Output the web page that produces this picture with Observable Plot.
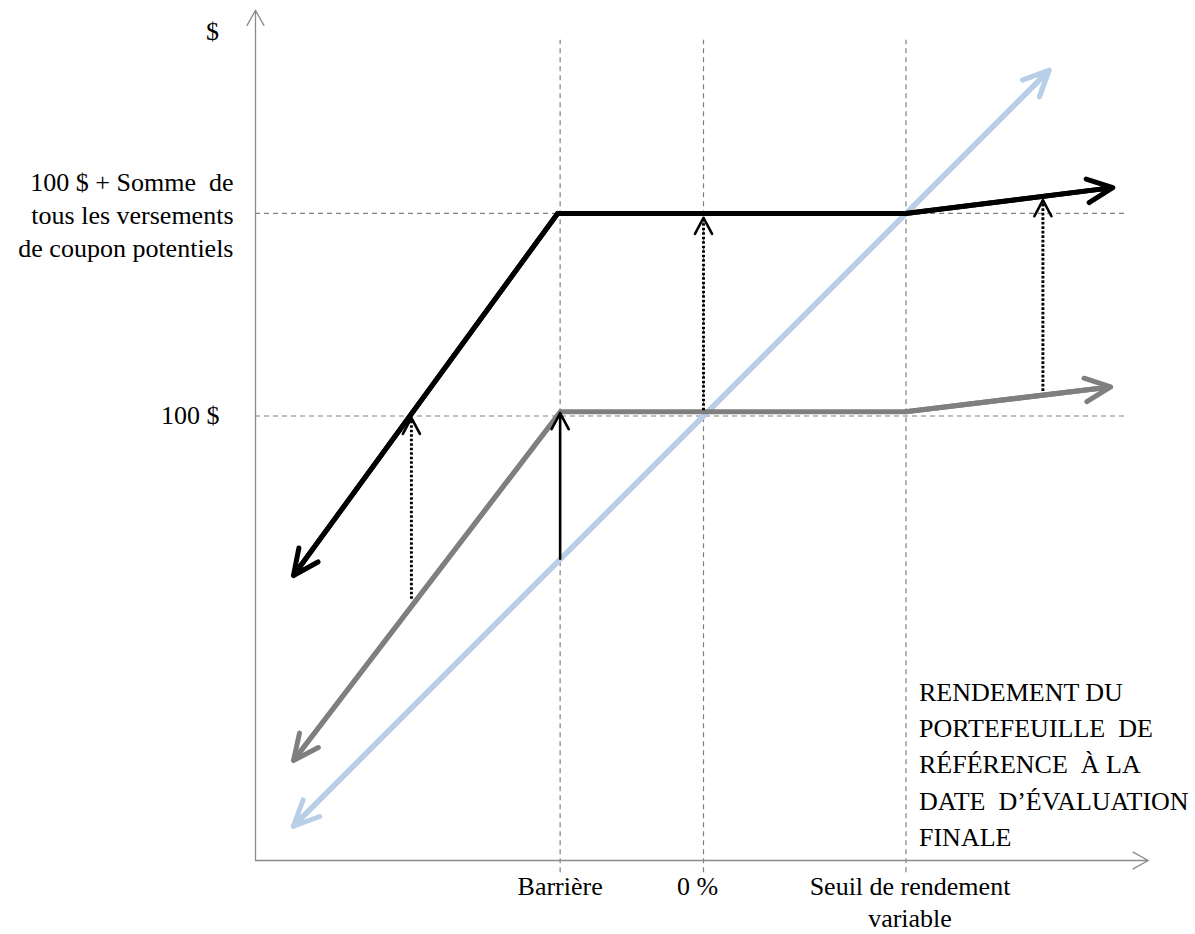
<!DOCTYPE html>
<html>
<head>
<meta charset="utf-8">
<script src="https://cdn.jsdelivr.net/npm/d3@7"></script>
<script src="https://cdn.jsdelivr.net/npm/@observablehq/plot@0.6"></script>
<style>
  html, body { margin: 0; padding: 0; background: #fff; }
  #chart svg { display: block; }
</style>
</head>
<body>
<div id="chart"></div>
<script>
// ---------- data ----------
// x: return of the reference portfolio (%), y: payoff ($)
const tickValues = [-40, 0, 56.5];
const tickLabels = ["Barrière", "0 %", "Seuil de rendement\nvariable"];
const levelValues = [100, 156.5];
const levelLabels = ["100 $", "100 $ + Somme  de\ntous les versements\nde coupon potentiels"];
const yAxisLabel = "$";
const xAxisLabel = "RENDEMENT DU\nPORTEFEUILLE  DE\nRÉFÉRENCE  À LA\nDATE  D’ÉVALUATION\nFINALE";

// light blue: reference portfolio
const underlyingX = [-114.4, 96.4];
const underlyingY = [-14.4, 196.4];
// grey: note without coupons
const noteX = [-114.4, -39.9, 56.4, 113.6];
const noteY = [3.9, 101.2, 101.2, 108.1];
// black: note with all potential coupons
const couponX = [-114.4, -40.7, 56.4, 114.2];
const couponY = [55.5, 156.5, 156.5, 163.7];

// dotted arrows (coupon uplift)
const gainX = [-81.5, 0, 94.7];
const gainFrom = [49, 101.6, 107];
const gainTo = [99.5, 155.3, 160.2];
// solid arrow (barrier protection)
const protectX = [-40];
const protectFrom = [60.2];
const protectTo = [100.8];

// axis / guide extents
const xDomain = [-125, 125];
const yDomain = [-24, 212];
const xAxisEnd = 124.1;
const yAxisEnd = 213.2;
const guideTop = 204.8;
const guideBottom = -27.4;
const levelEnd = 118.5;

// ---------- layout ----------
const W = 1195, H = 934;
const M = {left: 255, right: 44, top: 14, bottom: 74};
const yPix = d3.scaleLinear(yDomain, [H - M.bottom, M.top]);

const FONT = "Liberation Serif, Times New Roman, serif";
const FS = 26;
const BLUE = "#b8cfe7", GREY = "#7f7f7f", BLACK = "#000000", AXIS = "#8a8a8a", GUIDE = "#808080";

const pts = (xs, ys) => xs.map((x, i) => ({x, y: ys[i]}));
const seg = (xs, ys, a, b) => [{x1: xs[a], y1: ys[a], x2: xs[b], y2: ys[b]}];

function payoff(xs, ys, color) {
  const n = xs.length;
  const arrowOpts = {x1: "x1", y1: "y1", x2: "x2", y2: "y2", stroke: color, strokeWidth: 5,
    headAngle: 50, headLength: 8.4, strokeLinecap: "round", strokeLinejoin: "round"};
  return [
    Plot.line(pts(xs, ys), {x: "x", y: "y", stroke: color, strokeWidth: 5,
      strokeLinejoin: "miter", strokeMiterlimit: 10, strokeLinecap: "butt"}),
    Plot.arrow(seg(xs, ys, 1, 0), arrowOpts),
    Plot.arrow(seg(xs, ys, n - 2, n - 1), arrowOpts)
  ];
}

const gainData = gainX.map((x, i) => ({x, y1: gainFrom[i], y2: gainTo[i]}));
const gainHeads = gainData.map(d => Plot.arrow([d], {
  x1: "x", x2: "x", y1: "y1", y2: "y2", stroke: BLACK, strokeWidth: 2.6,
  headAngle: 56, headLength: 10.5, strokeLinecap: "round", strokeLinejoin: "round",
  insetStart: Math.abs(yPix(d.y2) - yPix(d.y1)) - 2
}));

const tickDx = [0, -6, 4];

const chart = Plot.plot({
  width: W, height: H,
  marginLeft: M.left, marginRight: M.right, marginTop: M.top, marginBottom: M.bottom,
  x: {domain: xDomain, axis: null},
  y: {domain: yDomain, axis: null},
  style: {fontFamily: FONT, fontSize: FS + "px", color: "black", background: "white", overflow: "visible"},
  marks: [
    // guides
    Plot.ruleX(tickValues, {x: d => d, y1: guideBottom, y2: guideTop, stroke: GUIDE, strokeWidth: 1.2, strokeDasharray: "5,4"}),
    Plot.ruleY(levelValues, {y: d => d, x1: xDomain[0], x2: levelEnd, stroke: GUIDE, strokeWidth: 1.2, strokeDasharray: "5,4"}),
    // axes
    Plot.arrow([{x1: xDomain[0], y1: yDomain[0], x2: xAxisEnd, y2: yDomain[0]},
                {x1: xDomain[0], y1: yDomain[0], x2: xDomain[0], y2: yAxisEnd}],
      {x1: "x1", y1: "y1", x2: "x2", y2: "y2", stroke: AXIS, strokeWidth: 1.3, headAngle: 58, headLength: 20}),
    // payoff lines
    ...payoff(underlyingX, underlyingY, BLUE),
    Plot.arrow(seg(underlyingX, underlyingY, 0, 1), {x1: "x1", y1: "y1", x2: "x2", y2: "y2", stroke: BLUE, strokeWidth: 5,
      headAngle: 50, headLength: 8.4, strokeLinecap: "round", strokeLinejoin: "round"}),
    ...payoff(noteX, noteY, GREY),
    ...payoff(couponX, couponY, BLACK),
    // dotted uplift arrows
    Plot.link(gainData, {x1: "x", x2: "x", y1: "y1", y2: "y2", stroke: BLACK, strokeWidth: 2.9, strokeDasharray: "2.6,1.9"}),
    ...gainHeads,
    // barrier protection arrow
    Plot.arrow(protectX.map((x, i) => ({x, y1: protectFrom[i], y2: protectTo[i]})), {
      x1: "x", x2: "x", y1: "y1", y2: "y2", stroke: BLACK, strokeWidth: 2.6,
      headAngle: 56, headLength: 10.5, strokeLinecap: "round", strokeLinejoin: "round"}),
    // y labels
    Plot.text([{y: levelValues[0], t: levelLabels[0]}], {x: xDomain[0], y: "y", text: "t", textAnchor: "end",
      dx: -36, fontSize: FS, fill: "black", lineAnchor: "middle"}),
    Plot.text([{y: levelValues[1], t: levelLabels[1]}], {x: xDomain[0], y: "y", text: "t", textAnchor: "end",
      dx: -22, fontSize: FS, fill: "black", lineAnchor: "middle", lineHeight: 1.27}),
    Plot.text([yAxisLabel], {x: xDomain[0], y: yAxisEnd, text: d => d, dx: -43, dy: 30,
      fontSize: FS, fill: "black", lineAnchor: "bottom"}),
    // x tick labels
    ...tickValues.map((v, i) => Plot.text([{x: v, t: tickLabels[i]}], {x: "x", y: yDomain[0], text: "t",
      dx: tickDx[i], dy: 11, fontSize: FS, fill: "black", lineAnchor: "top", lineHeight: 1.25})),
    // x axis title
    Plot.text([xAxisLabel], {x: tickValues[2], y: yDomain[0], text: d => d, dx: 13, dy: -15,
      textAnchor: "start", lineAnchor: "bottom", lineHeight: 1.385, fontSize: FS, fill: "black"})
  ]
});
document.getElementById("chart").appendChild(chart);
</script>
</body>
</html>
